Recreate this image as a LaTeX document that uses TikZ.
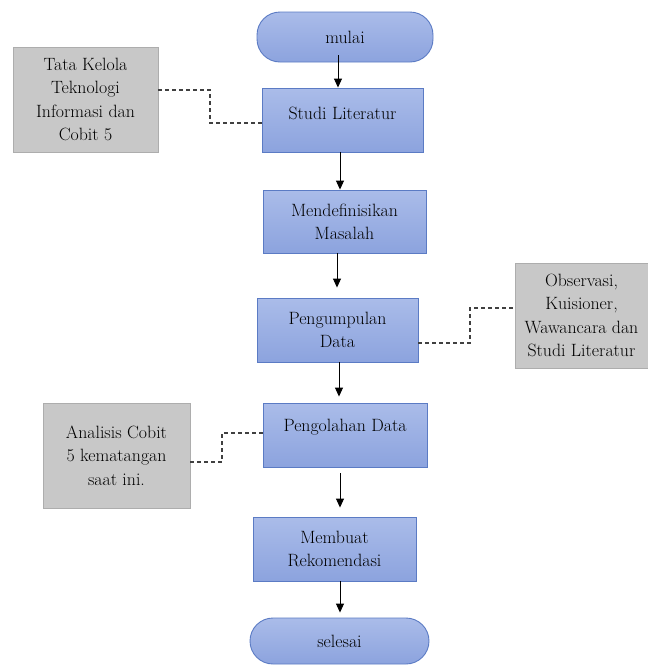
\documentclass[tikz,border=0pt]{standalone}
\usetikzlibrary{arrows.meta}
\definecolor{bluetop}{HTML}{AABCE9}
\definecolor{bluebot}{HTML}{8CA3DE}
\definecolor{blueedge}{HTML}{5B7BC4}
\definecolor{grayfill}{HTML}{C8C8C8}
\definecolor{grayedge}{HTML}{ADADAD}
\definecolor{dashcol}{HTML}{404040}
\begin{document}
\begin{tikzpicture}[x=1pt,y=-1pt,
  every node/.style={font=\rmfamily\fontsize{17.8}{23.3}\selectfont, text=black, align=center, inner sep=0pt},
  procbox/.style={rectangle, draw=blueedge, line width=0.9pt, top color=bluetop, bottom color=bluebot},
  termbox/.style={rectangle, rounded corners=23pt, draw=blueedge, line width=0.9pt, top color=bluetop, bottom color=bluebot},
  notebox/.style={rectangle, draw=grayedge, line width=0.8pt, fill=grayfill},
  arr/.style={line width=1pt, black, -{Triangle[length=9pt,width=8pt]}},
  dashline/.style={line width=1.2pt, dashcol, dash pattern=on 4pt off 3pt}]
\useasboundingbox (0,0) rectangle (648,665);

\node[termbox, minimum width=176pt, minimum height=50pt] (mulai) at (345,37) {mulai};
\node[procbox, minimum width=161pt, minimum height=64pt, text depth=14pt] (studi) at (342.5,120) {Studi Literatur};
\node[procbox, minimum width=163pt, minimum height=63pt] (mendef) at (344.5,221.5) {Mendefinisikan\\Masalah};
\node[procbox, minimum width=161pt, minimum height=64pt] (kumpul) at (337.5,330) {Pengumpulan\\Data};
\node[procbox, minimum width=164pt, minimum height=64pt, text depth=20pt] (olah) at (345,435) {Pengolahan Data};
\node[procbox, minimum width=163pt, minimum height=64pt] (rekom) at (334.5,549) {Membuat\\Rekomendasi};
\node[termbox, minimum width=179pt, minimum height=46pt] (selesai) at (339.5,641) {selesai};

\node[notebox, minimum width=145pt, minimum height=105pt] (tata) at (85.5,99.5) {Tata Kelola\\Teknologi\\Informasi dan\\Cobit 5};
\node[notebox, minimum width=133pt, minimum height=105pt] (obs) at (581.5,315.5) {Observasi,\\Kuisioner,\\Wawancara dan\\Studi Literatur};
\node[notebox, minimum width=147pt, minimum height=105pt] (anal) at (116.5,455.5) {Analisis Cobit\\5 kematangan\\saat ini.};

\draw[arr] ([yshift=7pt]mulai.south -| 338,0) -- (studi.north -| 338,0);
\draw[arr] (studi.south -| 340,0) -- (mendef.north -| 340,0);
\draw[arr] (mendef.south -| 337,0) -- ([yshift=10pt]kumpul.north -| 337,0);
\draw[arr] (kumpul.south -| 339,0) -- ([yshift=6pt]olah.north -| 339,0);
\draw[arr] ([yshift=-6pt]olah.south -| 340,0) -- ([yshift=9pt]rekom.north -| 340,0);
\draw[arr] (rekom.south -| 340,0) -- ([yshift=5pt]selesai.north -| 340,0);

\draw[dashline] (tata.east |- 0,90) -- (210,90) -- (210,123) -- (studi.west |- 0,123);
\draw[dashline] (kumpul.east |- 0,343) -- (470,343) -- (470,308) -- (obs.west |- 0,308);
\draw[dashline] (olah.west |- 0,433) -- (222,433) -- (222,462) -- (anal.east |- 0,462);
\end{tikzpicture}
\end{document}
